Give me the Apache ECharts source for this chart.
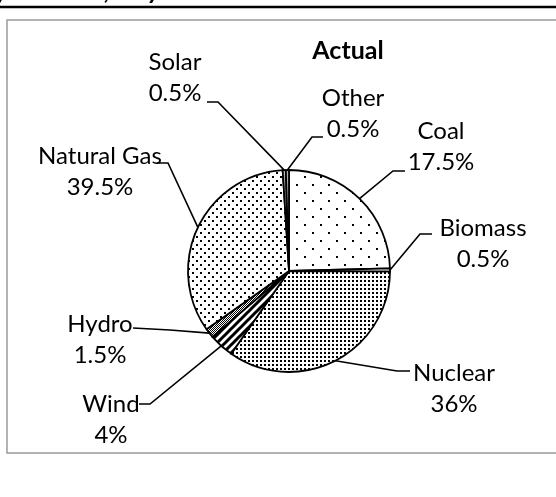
<!DOCTYPE html>
<html><head><meta charset="utf-8">
<script src="https://cdn.jsdelivr.net/npm/echarts@6/dist/echarts.min.js"></script>
<style>html,body{margin:0;padding:0;background:#fff}#c{width:556px;height:497px}</style>
</head><body><div id="c"></div>
<script>
// ---- data ----
const categories = ['Coal','Biomass','Nuclear','Wind','Hydro','Natural Gas','Solar','Other'];
const sliceValues = [24.6, 0.5, 34.6, 4.0, 1.5, 33.8, 0.5, 0.5];
const labelPercents = ['17.5%','0.5%','36%','4%','1.5%','39.5%','0.5%','0.5%'];
const chartTitle = 'Actual';

// ---- layout (label block centres and leader bends/ends) ----
const labelLayoutCfg = [
  {x:441, y:147, bend:[393,171], end:[405,171]},   // Coal
  {x:483, y:244, bend:[420,234], end:[432,234]},   // Biomass
  {x:454, y:389, bend:[397,371], end:[410,371]},   // Nuclear
  {x:111, y:420, bend:[150,404], end:[139,404]},   // Wind
  {x:100, y:340, bend:[170,330], end:[133,328]},   // Hydro
  {x:100, y:172, bend:[168,163], end:[157,163]},   // Natural Gas
  {x:175, y:78,  bend:[218,102], end:[207,102]},   // Solar
  {x:353, y:114, bend:[312,137], end:[323,137]}    // Other
];

function pat(w, h, draw){
  const c = document.createElement('canvas'); c.width = w; c.height = h;
  const g = c.getContext('2d'); g.fillStyle = '#fff'; g.fillRect(0,0,w,h);
  g.fillStyle = '#000'; g.strokeStyle = '#000'; draw(g);
  return {image: c, repeat: 'repeat'};
}
const pCoal = pat(16,16,g=>{g.fillRect(0,0,2,2);g.fillRect(8,8,2,2);});
const pGas = pat(8,8,g=>{g.fillRect(0,0,2,2);g.fillRect(4,4,2,2);});
const pNuc = pat(4,4,g=>{g.fillRect(0,0,2,2);});
const pHydro = pat(2,2,g=>{g.fillRect(0,0,1,1);g.fillRect(1,1,1,1);});
const pWind = pat(8,8,g=>{g.lineWidth=3;g.beginPath();
  g.moveTo(-4,4);g.lineTo(4,-4);g.moveTo(0,8);g.lineTo(8,0);g.moveTo(4,12);g.lineTo(12,4);g.stroke();});
const fills = [pCoal, '#ffffff', pNuc, pWind, pHydro, pGas, '#b0b0b0', '#b0b0b0'];

const chart = echarts.init(document.getElementById('c'), null, {renderer:'canvas'});
chart.setOption({
  animation: false,
  backgroundColor: '#fff',
  graphic: [
    {type:'rect', shape:{x:7, y:20, width:600, height:433}, style:{fill:'none', stroke:'#9a9a9a', lineWidth:1.5}, silent:true},
    {type:'line', shape:{x1:0, y1:7, x2:556, y2:7}, style:{stroke:'#000', lineWidth:2.5}, silent:true},
    {type:'text', x:-4, y:-22, style:{text:'y', font:'italic bold 26px Lato', fill:'#000'}},
    {type:'text', x:104, y:-22, style:{text:',', font:'italic bold 26px Lato', fill:'#000'}},
    {type:'text', x:148, y:-22, style:{text:'y', font:'italic bold 26px Lato', fill:'#000'}}
  ],
  title: {text: chartTitle, left: 343, top: 33, textAlign:'center',
    textStyle:{fontFamily:'Lato', fontWeight:'bold', fontSize:25, color:'#000'}},
  series: [{
    type: 'pie',
    center: [289, 271],
    radius: [0, 101],
    startAngle: 90,
    clockwise: true,
    avoidLabelOverlap: false,
    emphasis: {disabled: true},
    itemStyle: {borderColor:'#000', borderWidth:1.8},
    label: {
      show: true, position: 'outside',
      fontFamily: 'Lato', fontSize: 24, color: '#000', lineHeight: 31, align: 'center',
      formatter: p => categories[p.dataIndex] + '\n' + labelPercents[p.dataIndex]
    },
    labelLine: {show: true, lineStyle: {color:'#000', width:1.6}},
    labelLayout: function(params){
      const c = labelLayoutCfg[params.dataIndex];
      const a = params.labelLinePoints ? params.labelLinePoints[0] : c.bend;
      return {x:c.x, y:c.y, align:'center', verticalAlign:'middle',
        labelLinePoints:[a, c.bend, c.end]};
    },
    data: categories.map((n,i)=>({name:n, value:sliceValues[i], itemStyle:{color:fills[i]}}))
  }]
});
</script></body></html>
